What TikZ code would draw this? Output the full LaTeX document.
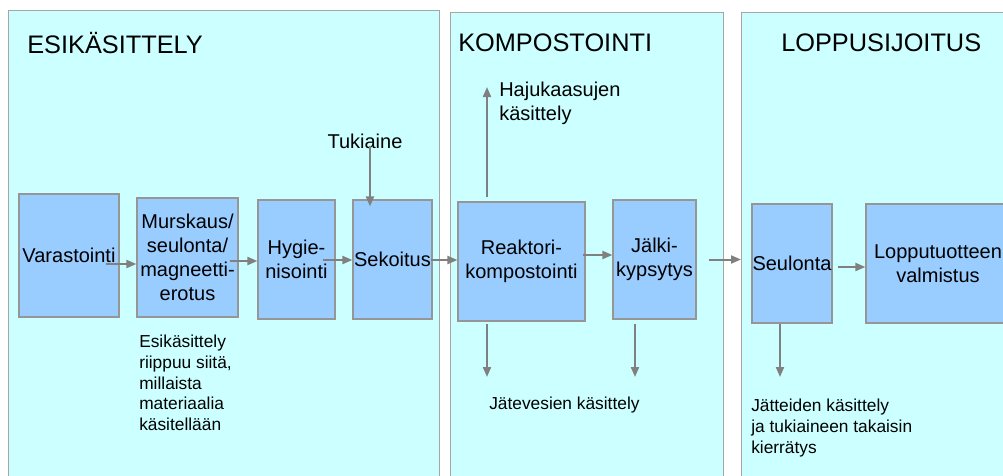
\documentclass[tikz,border=0pt]{standalone}
\usepackage{fontspec}
\setmainfont{Liberation Sans}
\usetikzlibrary{arrows.meta,calc}
\definecolor{panelfill}{HTML}{CCFFFF}
\definecolor{panelline}{HTML}{A6A6A6}
\definecolor{boxfill}{HTML}{99CCFF}
\definecolor{boxline}{HTML}{969696}
\definecolor{arrcol}{HTML}{808080}
\tikzset{
  panel/.style={draw=panelline, fill=panelfill, line width=0.9pt},
  stepbox/.style 2 args={draw=boxline, fill=boxfill, line width=0.9pt, inner sep=0pt,
    minimum width=#1*0.75pt, minimum height=#2*0.75pt, align=center,
    font=\fontsize{15}{18}\selectfont},
  ttl/.style={anchor=west, inner sep=0pt, font=\fontsize{19}{22}\selectfont},
  note/.style={inner sep=0pt, align=left, font=\fontsize{13}{15.5}\selectfont},
  bignote/.style={inner sep=0pt, align=left, font=\fontsize{15}{18}\selectfont},
  arr/.style={draw=arrcol, line width=1.5pt, -{Triangle[length=7.5pt,width=6pt]}}
}
\begin{document}
\begin{tikzpicture}[x=0.75pt,y=-0.75pt]
\useasboundingbox (0,0) rectangle (1003,475);
\fill[white] (0,0) rectangle (1003,475);
% panels
\node[panel, inner sep=0pt, anchor=north west, minimum width=431*0.75pt, minimum height=480*0.75pt] (p1) at (8,10) {};
\node[panel, inner sep=0pt, anchor=north west, minimum width=273*0.75pt, minimum height=480*0.75pt] (p2) at (450,12) {};
\node[panel, inner sep=0pt, anchor=north west, minimum width=280*0.75pt, minimum height=480*0.75pt] (p3) at (741,12) {};
% titles
\node[ttl] (t1) at (27,43) {ESIKÄSITTELY};
\node[ttl] (t2) at (458,43) {KOMPOSTOINTI};
\node[ttl] (t3) at (781,43) {LOPPUSIJOITUS};
% boxes
\node[stepbox={100}{123}] (var) at (69,255.5) {Varastointi};
\node[stepbox={101}{119}] (mur) at (187.5,257.5) {Murskaus/\\seulonta/\\magneetti-\\erotus};
\node[stepbox={77}{119}] (hyg) at (296.5,259.5) {Hygie-\\nisointi};
\node[stepbox={79}{119}] (sek) at (392.5,259.5) {Sekoitus};
\node[stepbox={127}{119}] (rea) at (521.5,261.5) {Reaktori-\\kompostointi};
\node[stepbox={83}{119}] (jal) at (654.5,259.5) {Jälki-\\kypsytys};
\node[stepbox={80}{119}] (seu) at (792,263.5) {Seulonta};
\node[stepbox={144}{119}] (lop) at (938,263.5) {Lopputuotteen\\valmistus};
% texts
\node[bignote] (tuk) at (365,141) {Tukiaine};
\node[bignote, anchor=west] (haj) at (499,103) {Hajukaasujen\\käsittely};
\node[note, anchor=north west] (esi) at (139,335) {Esikäsittely\\riippuu siitä,\\millaista\\materiaalia\\käsitellään};
\node[note, anchor=west] (jat) at (489,405) {Jätevesien käsittely};
\node[note, anchor=north west] (jtt) at (751,399) {Jätteiden käsittely\\ja tukiaineen takaisin\\kierrätys};
% free ends
\coordinate (hajtip) at (487,87);
\coordinate (readown) at (487,377);
\coordinate (jaldown) at (635,377);
\coordinate (seudown) at (780,377);
% arrows
\draw[arr] ([shift={(-14,8.5)}]var.east) coordinate (s1) -- (s1 -| mur.west);
\draw[arr] ([shift={(-9,3.5)}]mur.east) coordinate (s2) -- (s2 -| hyg.west);
\draw[arr] ([shift={(-13,0.5)}]hyg.east) coordinate (s3) -- (s3 -| sek.west);
\draw[arr] ([shift={(-2,0.5)}]sek.east) coordinate (s4) -- (s4 -| rea.west);
\draw[arr] ([shift={(-3,-6.5)}]rea.east) coordinate (s5) -- (s5 -| jal.west);
\draw[arr] ([shift={(12,0)}]jal.east) coordinate (s6) -- (s6 -| p3.west);
\draw[arr] ([shift={(5,3.5)}]seu.east) coordinate (s7) -- (s7 -| lop.west);
\draw[arr] ([shift={(5,-3)}]tuk.south) coordinate (s8) -- ($(s8 |- sek.north)+(0,7)$);
\draw[arr] ([shift={(-34.5,-4)}]rea.north) -- (hajtip);
\draw[arr] ([shift={(-34.5,2)}]rea.south) -- (readown);
\draw[arr] ([shift={(-19.5,4)}]jal.south) -- (jaldown);
\draw[arr] ([shift={(-12,0)}]seu.south) -- (seudown);
\end{tikzpicture}
\end{document}
